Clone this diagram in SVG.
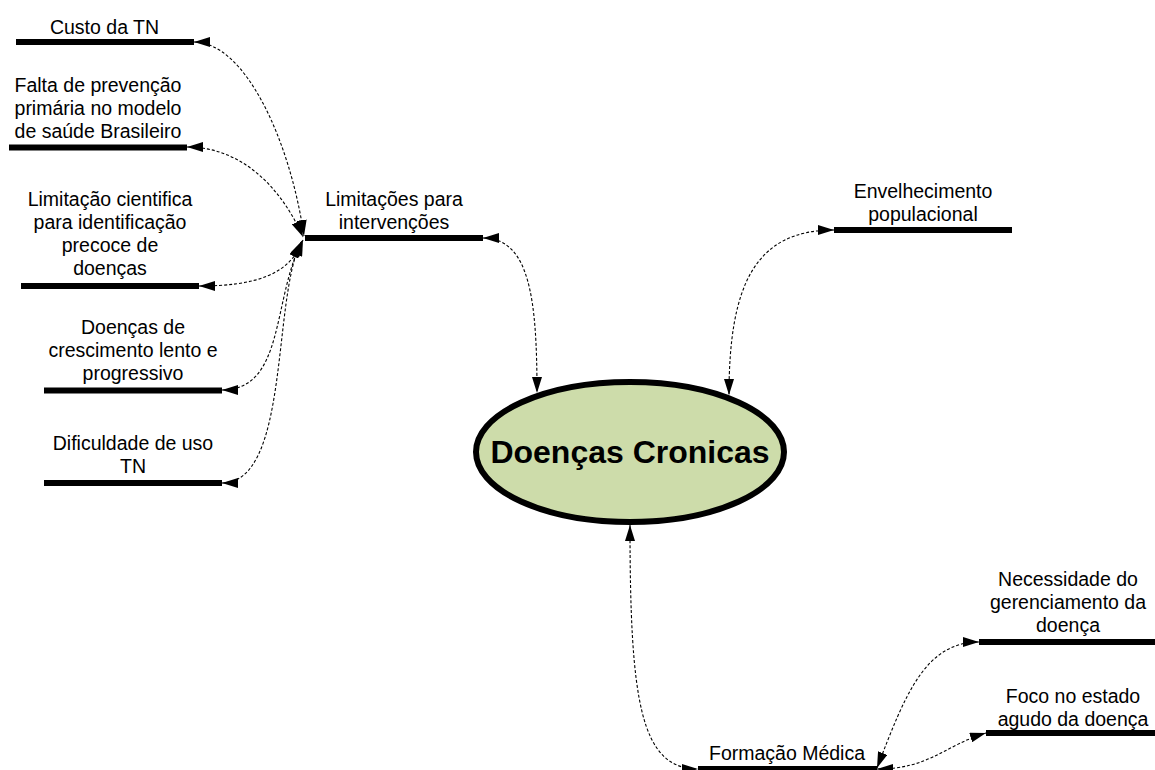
<svg xmlns="http://www.w3.org/2000/svg" width="1155" height="770" viewBox="0 0 1155 770">
  <style>
    .bar { fill: #000; }
    .lbl { font-family: "Liberation Sans", Arial, sans-serif; font-size: 19.5px; fill: #000; text-anchor: middle; }
    .title { font-family: "Liberation Sans", Arial, sans-serif; font-size: 32px; font-weight: bold; fill: #000; text-anchor: middle; }
    .link { fill: none; stroke: #000; stroke-width: 1.1; stroke-dasharray: 3 2; marker-start: url(#head); marker-end: url(#head); }
  </style>
  <defs>
    <marker id="head" viewBox="0 0 16 10" refX="16" refY="5" markerWidth="16" markerHeight="10" markerUnits="userSpaceOnUse" orient="auto-start-reverse">
      <path d="M0,0 L16,5 L0,10 z" fill="#000"/>
    </marker>
  </defs>
  <rect width="1155" height="770" fill="#fff"/>

  <!-- connectors: each is bidirectional, drawn from one bar end to the other -->
  <g id="connectors">
    <path class="link" d="M194,42 C245,42 290,140 304,236"/>
    <path class="link" d="M187,147 C240,147 280,185 303,237"/>
    <path class="link" d="M199,286 C255,286 290,275 303,240"/>
    <path class="link" d="M222,390 C285,390 272,300 302,241"/>
    <path class="link" d="M222,483 C290,483 272,300 301,242"/>
    <path class="link" d="M483,238 C530,238 537,300 537,393"/>
    <path class="link" d="M834,230 C755,230 729,285 729,395"/>
    <path class="link" d="M630,525 C630,700 640,769 698,769"/>
    <path class="link" d="M877,768 C905,695 925,642 979,642"/>
    <path class="link" d="M877,769 C930,769 945,745 986,733"/>
  </g>

  <g id="doencas-cronicas">
    <ellipse cx="630" cy="452" rx="154" ry="70" fill="#CDDCAA" stroke="#000" stroke-width="6"/>
    <text class="title" x="630" y="463">Doenças Cronicas</text>
  </g>

  <g id="custo-tn">
    <text class="lbl" x="104.5" y="33.5">Custo da TN</text>
    <rect class="bar" x="16" y="39" width="178" height="6"/>
  </g>

  <g id="falta-prevencao">
    <text class="lbl" x="98" y="91.5">Falta de prevenção</text>
    <text class="lbl" x="98" y="114.5">primária no modelo</text>
    <text class="lbl" x="98" y="137.5">de saúde Brasileiro</text>
    <rect class="bar" x="9" y="144.5" width="178" height="6"/>
  </g>

  <g id="limitacao-cientifica">
    <text class="lbl" x="110" y="206">Limitação cientifica</text>
    <text class="lbl" x="110" y="229">para identificação</text>
    <text class="lbl" x="110" y="252">precoce de</text>
    <text class="lbl" x="110" y="275">doenças</text>
    <rect class="bar" x="21" y="283" width="178" height="6"/>
  </g>

  <g id="crescimento-lento">
    <text class="lbl" x="133" y="333.5">Doenças de</text>
    <text class="lbl" x="133" y="356.5">crescimento lento e</text>
    <text class="lbl" x="133" y="379.5">progressivo</text>
    <rect class="bar" x="44" y="387.5" width="178" height="6"/>
  </g>

  <g id="dificuldade-uso">
    <text class="lbl" x="133" y="449.5">Dificuldade de uso</text>
    <text class="lbl" x="133" y="472.5">TN</text>
    <rect class="bar" x="44" y="480" width="178" height="6"/>
  </g>

  <g id="limitacoes-intervencoes">
    <text class="lbl" x="394" y="205.5">Limitações para</text>
    <text class="lbl" x="394" y="228.5">intervenções</text>
    <rect class="bar" x="305" y="235" width="178" height="6"/>
  </g>

  <g id="envelhecimento">
    <text class="lbl" x="923" y="198">Envelhecimento</text>
    <text class="lbl" x="923" y="221">populacional</text>
    <rect class="bar" x="834" y="227" width="178" height="6"/>
  </g>

  <g id="formacao-medica">
    <text class="lbl" x="787" y="759.5">Formação Médica</text>
    <rect class="bar" x="698" y="766" width="179" height="6"/>
  </g>

  <g id="necessidade-gerenciamento">
    <text class="lbl" x="1068" y="586">Necessidade do</text>
    <text class="lbl" x="1068" y="609">gerenciamento da</text>
    <text class="lbl" x="1068" y="632">doença</text>
    <rect class="bar" x="979" y="639" width="178" height="6"/>
  </g>

  <g id="foco-agudo">
    <text class="lbl" x="1073" y="703">Foco no estado</text>
    <text class="lbl" x="1073" y="726">agudo da doença</text>
    <rect class="bar" x="986" y="730" width="178" height="6"/>
  </g>
</svg>
